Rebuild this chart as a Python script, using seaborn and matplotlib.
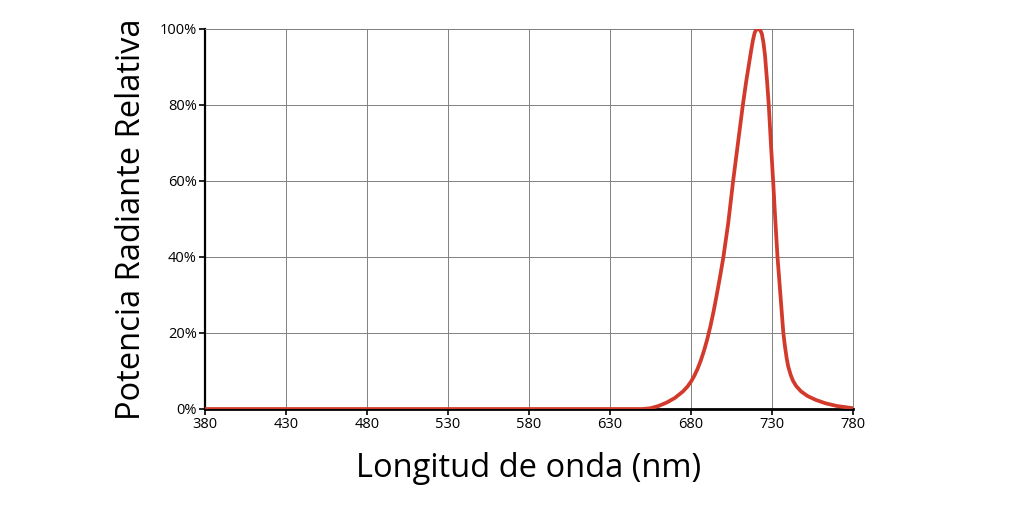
import pandas as pd
import matplotlib
matplotlib.use("Agg")
import matplotlib.pyplot as plt
import seaborn as sns
from matplotlib.ticker import PercentFormatter

# wavelength (nm) and relative radiant power (%)
wavelength = [380, 450, 550, 640, 650, 655, 660, 665, 670, 675, 678, 680, 682, 684,
              686, 688, 690, 692, 694, 696, 698, 700, 703, 706, 709, 712, 714,
              715.5, 717, 718.2, 719.3, 720.3, 721.5, 722.7, 723.7, 724.7, 725.7,
              727, 728, 729.3, 730.7, 732, 733.4, 735.2, 737, 738, 739, 740, 741.5,
              743, 745, 748, 752, 757, 763, 770, 780]
power = [0, 0, 0, 0, 0, 0.2, 0.8, 1.7, 2.9, 4.6, 6, 7.2, 8.7, 10.5,
         12.7, 15.3, 18.3, 21.8, 25.8, 30.3, 35, 40, 49, 60, 70, 80, 86,
         90, 94, 97, 99, 99.9, 100, 99.7, 98.8, 96.5, 93,
         86, 80, 70, 60, 50, 40, 30, 20, 16.5, 13.5, 11.2, 9,
         7.4, 6, 4.6, 3.4, 2.4, 1.5, 0.8, 0.2]

xticks = [380, 430, 480, 530, 580, 630, 680, 730, 780]
yticks = [0, 20, 40, 60, 80, 100]

df = pd.DataFrame({"nm": wavelength, "rel": power})

sns.set_style("white")
plt.rcParams["font.family"] = ["Open Sans", "DejaVu Sans"]
plt.rcParams["text.color"] = "black"
plt.rcParams["axes.labelcolor"] = "black"
plt.rcParams["xtick.color"] = "black"
plt.rcParams["ytick.color"] = "black"

fig = plt.figure(figsize=(10.24, 5.16), dpi=100)
ax = fig.add_axes([205 / 1024, 1 - 409 / 516, 648 / 1024, 380 / 516])

sns.lineplot(data=df, x="nm", y="rel", color="#d23a2c", linewidth=2.7, ax=ax,
             zorder=3)

ax.set_xlim(380, 780)
ax.set_ylim(0, 100)
ax.set_xticks(xticks)
ax.set_yticks(yticks)
ax.yaxis.set_major_formatter(PercentFormatter(decimals=0))
ax.grid(True, color="#808080", linewidth=0.7)
ax.tick_params(axis="both", direction="out", length=4, width=1.2, color="black",
               labelcolor="black", labelsize=10.5, pad=2, left=True, bottom=True)
for side in ("top", "right"):
    ax.spines[side].set_color("#808080")
    ax.spines[side].set_linewidth(0.7)
ax.spines["left"].set_color("black")
ax.spines["left"].set_linewidth(1.6)
ax.spines["bottom"].set_color("black")
ax.spines["bottom"].set_linewidth(2)

ax.set_xlabel("Longitud de onda (nm)", fontsize=23.5, labelpad=14, color="black")
ax.set_ylabel("Potencia Radiante Relativa", fontsize=23.5, labelpad=8, color="black")

fig.savefig("out.png", dpi=100, facecolor="white")
